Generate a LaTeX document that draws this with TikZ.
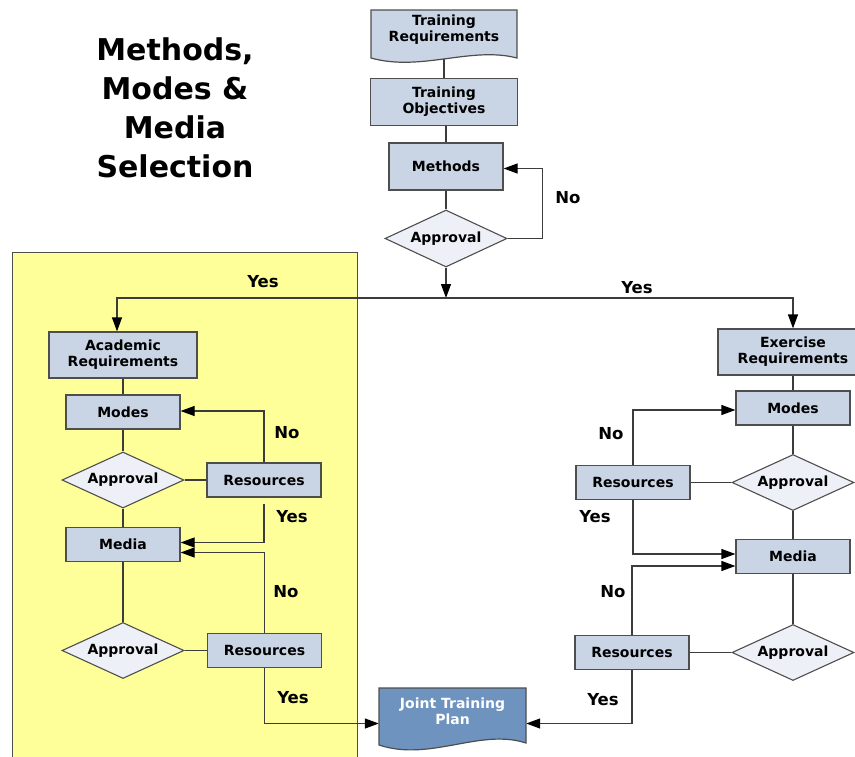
\documentclass[tikz,border=0pt]{standalone}
\usepackage{fontspec}
\setmainfont{DejaVu Sans}
\usetikzlibrary{arrows.meta,shapes.geometric}
\pgfdeclarelayer{bg}
\pgfdeclarelayer{lines}
\pgfsetlayers{bg,lines,main}
\definecolor{boxfill}{RGB}{201,212,229}
\definecolor{diafill}{RGB}{237,240,246}
\definecolor{edge}{RGB}{78,78,78}
\definecolor{wire}{RGB}{60,60,60}
\definecolor{panel}{RGB}{255,255,153}
\definecolor{jtpfill}{RGB}{110,147,191}
\begin{document}
\begin{tikzpicture}[x=1pt,y=-1pt,
  base/.style={inner sep=0pt, align=center, font=\fontsize{14}{16}\selectfont\bfseries},
  box/.style={base, rectangle, draw=edge, line width=1.2pt, fill=boxfill, minimum width=114pt, minimum height=34pt},
  dia/.style={base, diamond, aspect=2.2, draw=edge, line width=1.1pt, fill=diafill, minimum width=122pt, minimum height=56pt},
  doctext/.style={base, rectangle},
  docshape/.style={draw=edge, line width=1.2pt, fill=boxfill},
  ln/.style={draw=wire, line width=1.2pt},
  arr/.style={ln, -{Triangle[length=14pt,width=10pt,color=black,fill=black]}},
  lab/.style={font=\fontsize{16.5}{18}\selectfont\bfseries, inner sep=0pt},
]
\useasboundingbox (0,0) rectangle (855,756);
\begin{pgfonlayer}{bg}
  \fill[panel] (12,252) rectangle (357,760);
  \draw[edge, line width=1pt] (12,760) -- (12,252) -- (357,252) -- (357,760);
\end{pgfonlayer}

% title
\node[font=\fontsize{30}{39}\selectfont\bfseries, align=center, inner sep=0pt] (title) at (175,108) {Methods,\\Modes \&\\Media\\Selection};

% top column
\path[docshape] (371,10) -- (517,10) -- (517,58) .. controls (471,46) and (421,72) .. (371,58) -- cycle;
\node[doctext, minimum width=146pt, minimum height=40pt] (treq) at (444,30) {Training\\Requirements};
\node[box, minimum width=147pt, minimum height=47pt] (tobj) at (444,102) {Training\\Objectives};
\node[box, minimum height=47pt] (meth) at (446,166.5) {Methods};
\node[dia, minimum height=57pt] (app0) at (446,238.5) {Approval};
\coordinate (split) at (446,298);

% left column
\node[box, minimum width=148pt, minimum height=46pt] (acad) at (123,355) {Academic\\Requirements};
\node[box] (modesL) at (123,412) {Modes};
\node[dia] (appL1) at (123,480) {Approval};
\node[box] (resL1) at (264,480) {Resources};
\node[box] (mediaL) at (123,544.5) {Media};
\node[dia] (appL2) at (123,650.5) {Approval};
\node[box] (resL2) at (264.5,650.5) {Resources};

% right column
\node[box, minimum width=150pt, minimum height=46pt] (exreq) at (793,352) {Exercise\\Requirements};
\node[box] (modesR) at (793,408) {Modes};
\node[dia] (appR1) at (793,482.5) {Approval};
\node[box] (resR1) at (633,482.5) {Resources};
\node[box] (mediaR) at (793,556.5) {Media};
\node[dia] (appR2) at (793,652.5) {Approval};
\node[box] (resR2) at (632,652.5) {Resources};

% joint training plan
\path[docshape, fill=jtpfill] (379,688) -- (526,688) -- (526,743) .. controls (480,728) and (430,762) .. (379,745) -- cycle;
\node[doctext, text=white, minimum width=147pt, minimum height=47pt] (jtp) at (452.5,711.5) {Joint Training\\Plan};

% labels
\node[lab] (no0) at (568,198) {No};
\node[lab] (yesA) at (263,282) {Yes};
\node[lab] (yesB) at (637,288) {Yes};
\node[lab] (noL1) at (287,433) {No};
\node[lab] (yesL1) at (292,517) {Yes};
\node[lab] (noL2) at (286,592) {No};
\node[lab] (yesL2) at (293,698) {Yes};
\node[lab] (noR1) at (611,434) {No};
\node[lab] (yesR1) at (595,517) {Yes};
\node[lab] (noR2) at (613,592) {No};
\node[lab] (yesR2) at (603,700) {Yes};

\begin{pgfonlayer}{lines}
  \draw[ln] (treq.south) -- (tobj.north);
  \draw[ln] (meth.north |- tobj.south) -- (meth.north);
  \draw[ln] (meth) -- (app0);
  \draw[arr] (app0.east) -- ++(35,0) |- ([yshift=-2pt]meth.east);
  \draw[arr] (app0.south) -- (split);
  \draw[arr] (split) -| ([xshift=-6pt]acad.north);
  \draw[arr] (split) -| (exreq.north);
  % left
  \draw[ln] (acad) -- (modesL);
  \draw[ln] (modesL) -- (appL1);
  \draw[ln] (appL1) -- (mediaL);
  \draw[ln] (mediaL) -- (appL2);
  \draw[ln] (appL1) -- (resL1);
  \draw[ln] (appL2) -- (resL2);
  \draw[arr] (resL1.north) |- ([yshift=1pt]modesL.east);
  \draw[arr, shorten <=6pt] (resL1.south) |- ([yshift=2pt]mediaL.east);
  \draw[arr] (resL2.north) |- ([yshift=-8pt]mediaL.east);
  \draw[arr] (resL2.south) |- ([yshift=-12pt]jtp.west);
  % right
  \draw[ln] (exreq) -- (modesR);
  \draw[ln] (modesR) -- (appR1);
  \draw[ln] (appR1) -- (mediaR);
  \draw[ln] (mediaR) -- (appR2);
  \draw[ln] (resR1) -- (appR1);
  \draw[ln] (resR2) -- (appR2);
  \draw[arr] (resR1.north) |- ([yshift=-2pt]modesR.west);
  \draw[arr] (resR1.south) |- ([yshift=2.5pt]mediaR.west);
  \draw[arr] (resR2.north) |- ([yshift=-9.5pt]mediaR.west);
  \draw[arr] (resR2.south) |- ([yshift=-12pt]jtp.east);
\end{pgfonlayer}
\end{tikzpicture}
\end{document}
